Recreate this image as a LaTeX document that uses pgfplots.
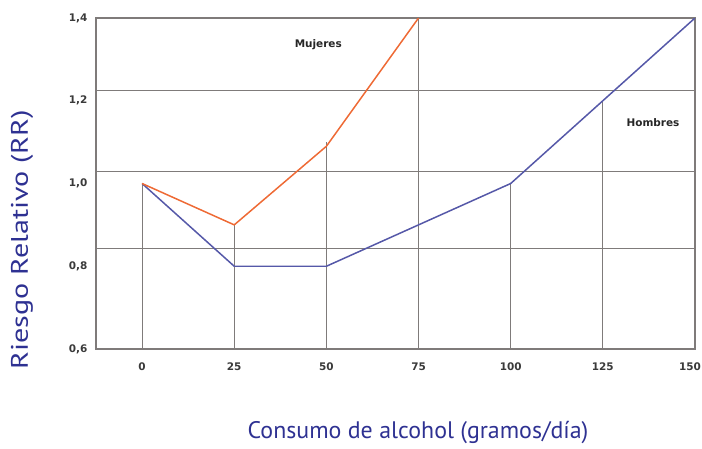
\documentclass[border=0pt]{standalone}
\usepackage{pgfplots}
\pgfplotsset{compat=1.18}
\usepackage{fontspec}
\setmainfont{DejaVu Sans}
\newfontfamily\labelfont{PT Sans}
\definecolor{gridc}{HTML}{7F7B7A}
\definecolor{mujc}{HTML}{EE6A35}
\definecolor{homc}{HTML}{5558A8}
\definecolor{labc}{HTML}{2E3192}
\definecolor{tickc}{HTML}{3A3A3A}
\begin{document}
\begin{tikzpicture}
\useasboundingbox (-96bp,-100bp) rectangle (606bp,349bp);
\begin{axis}[
  scale only axis, width=599bp, height=331bp,
  xmin=-12.5, xmax=150, ymin=0.6, ymax=1.4,
  axis line style={gridc, line width=1.1pt},
  xtick={0,25,...,125}, ytick={0.6,0.8,1.0,1.2,1.4},
  extra x ticks={150},
  extra x tick style={xticklabel style={xshift=-5bp}},
  major tick length=0pt,
  /pgf/number format/assume math mode=true,
  yticklabel style={/pgf/number format/fixed, /pgf/number format/fixed zerofill, /pgf/number format/precision=1, /pgf/number format/use comma, xshift=-5bp},
  xticklabel style={yshift=-10bp},
  ticklabel style={font=\bfseries\fontsize{10.5}{12}\selectfont, text=tickc},
  extra y ticks={0.842,1.03,1.224}, extra y tick labels={},
  extra y tick style={grid=major, major grid style={gridc, line width=1pt}},
  xlabel={\labelfont\fontsize{24}{28}\selectfont Consumo de alcohol (gramos/día)},
  xlabel style={at={(axis description cs:0.5376,-0.2538)}, anchor=center, text=labc},
  ylabel={\labelfont\fontsize{24}{28}\selectfont\scalebox{1.26}[1]{Riesgo Relativo (RR)}},
  ylabel style={at={(axis description cs:-0.1235,0.329)}, anchor=center, text=labc},
]
\addplot[ycomb, no markers, gridc, line width=1pt, forget plot] coordinates {(0,1.0) (25,0.9) (50,1.1) (75,1.4) (100,1.0) (125,1.2)};
\addplot[homc, line width=1.5pt] coordinates {(0,1.0) (25,0.8) (50,0.8) (100,1.0) (150,1.4)};
\addplot[mujc, line width=1.5pt] coordinates {(0,1.0) (25,0.9) (50,1.09) (75,1.4)};
\node[font=\bfseries\fontsize{10.5}{12}\selectfont, text=black!85] at (axis cs:47.8,1.335) {Mujeres};
\node[font=\bfseries\fontsize{10.5}{12}\selectfont, text=black!85] at (axis cs:138.6,1.146) {Hombres};
\end{axis}
\end{tikzpicture}
\end{document}
